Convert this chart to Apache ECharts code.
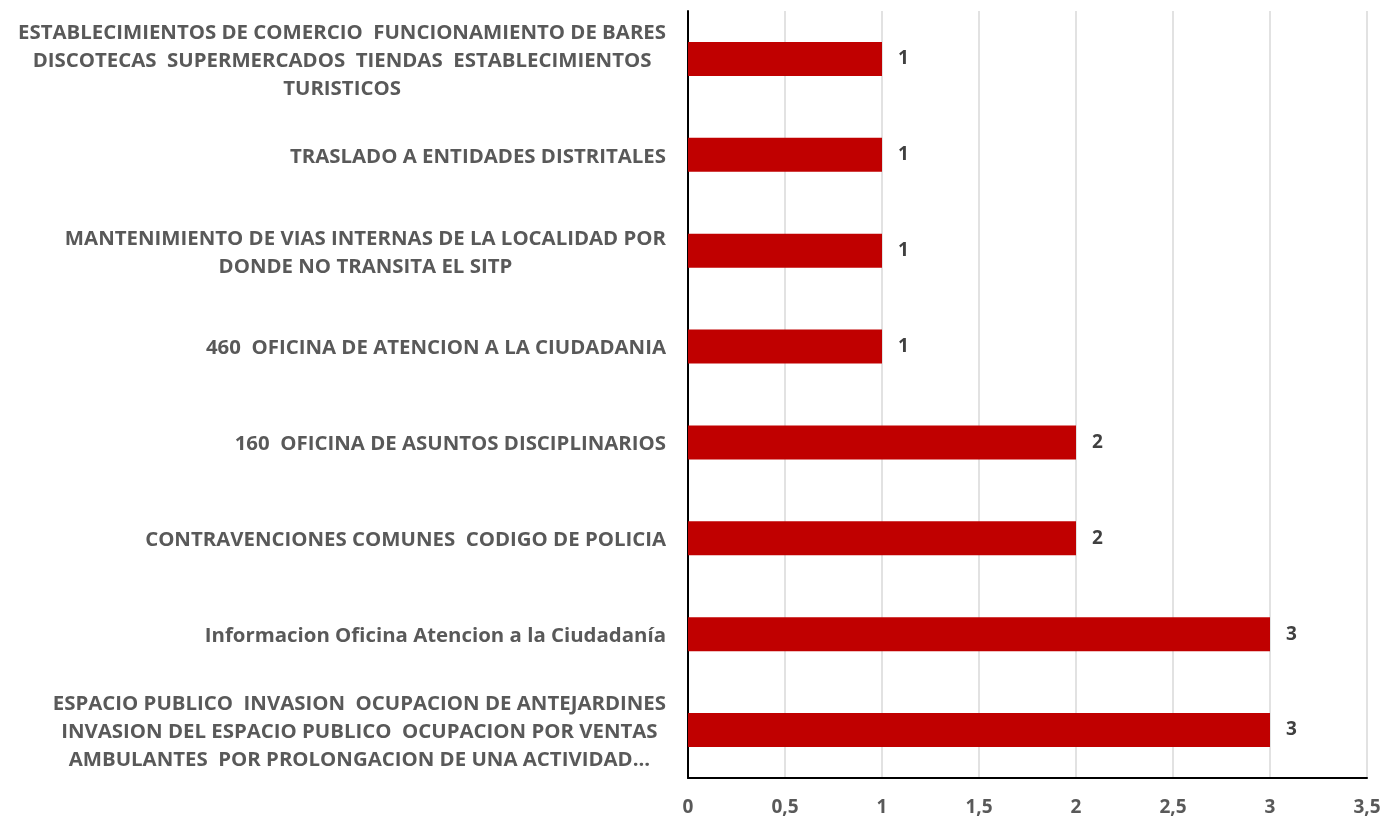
<!DOCTYPE html>
<html>
<head>
<meta charset="utf-8">
<script src="https://cdn.jsdelivr.net/npm/echarts@6/dist/echarts.min.js"></script>
<style>
  html, body { margin: 0; padding: 0; background: #fff; }
  #bar-chart { width: 1389px; height: 821px; }
</style>
</head>
<body>
<div id="bar-chart"></div>
<script>
// categories, top to bottom as in the picture
var categories = [
    'ESTABLECIMIENTOS DE COMERCIO  FUNCIONAMIENTO DE BARES\nDISCOTECAS  SUPERMERCADOS  TIENDAS  ESTABLECIMIENTOS\nTURISTICOS',
    'TRASLADO A ENTIDADES DISTRITALES',
    'MANTENIMIENTO DE VIAS INTERNAS DE LA LOCALIDAD POR\nDONDE NO TRANSITA EL SITP',
    '460  OFICINA DE ATENCION A LA CIUDADANIA',
    '160  OFICINA DE ASUNTOS DISCIPLINARIOS',
    'CONTRAVENCIONES COMUNES  CODIGO DE POLICIA',
    'Informacion Oficina Atencion a la Ciudadanía',
    'ESPACIO PUBLICO  INVASION  OCUPACION DE ANTEJARDINES\nINVASION DEL ESPACIO PUBLICO  OCUPACION POR VENTAS\nAMBULANTES  POR PROLONGACION DE UNA ACTIVIDAD...'
];
var values = [1, 1, 1, 1, 2, 2, 3, 3];
var xTicks = ['0', '0,5', '1', '1,5', '2', '2,5', '3', '3,5'];

var fontFam = '"Open Sans", sans-serif';

function barChart(){
    var chart = echarts.init(document.getElementById('bar-chart'));
    var option = {
        animation: false,
        grid: {
            left: 688,
            right: 22,
            top: 11,
            bottom: 43,
            containLabel: false
        },
        xAxis: {
            type: 'value',
            min: 0,
            max: 3.5,
            interval: 0.5,
            axisLine: { show: true, lineStyle: { color: '#000', width: 2 } },
            axisTick: { show: false },
            splitLine: { show: true, lineStyle: { color: '#d9d9d9', width: 1.5 } },
            axisLabel: {
                margin: 20,
                color: '#595959',
                fontFamily: fontFam,
                fontWeight: 'bold',
                fontSize: 19,
                formatter: function(v){ return xTicks[Math.round(v * 2)]; }
            }
        },
        yAxis: {
            type: 'category',
            inverse: true,
            data: categories,
            axisLine: { show: true, lineStyle: { color: '#000', width: 2 } },
            axisTick: { show: false },
            axisLabel: {
                margin: 22,
                color: '#595959',
                fontFamily: fontFam,
                fontWeight: 'bold',
                fontSize: 20.4,
                lineHeight: 28,
                padding: [4, 0, 0, 0],
                formatter: function(v){
                    return v.split('\n').map(function(l){ return '{c|' + l + '}'; }).join('\n');
                },
                rich: {
                    c: {
                        align: 'center',
                        color: '#595959',
                        fontFamily: fontFam,
                        fontWeight: 'bold',
                        fontSize: 20.4,
                        lineHeight: 28
                    }
                }
            }
        },
        series: [{
            type: 'bar',
            data: values,
            barWidth: 34,
            itemStyle: { color: '#c00000' },
            label: {
                show: true,
                position: 'right',
                distance: 16,
                color: '#404040',
                fontFamily: fontFam,
                fontWeight: 'bold',
                fontSize: 19
            }
        }]
    };

    chart.setOption(option);
    window.onresize = function(){
        chart.resize();
    };
}

barChart();
</script>
</body>
</html>
